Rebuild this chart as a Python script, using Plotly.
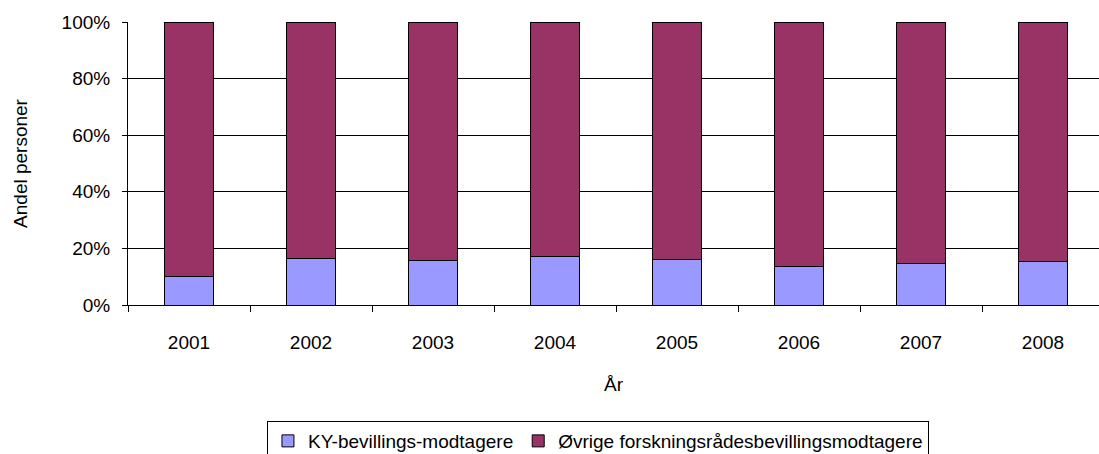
import plotly.graph_objects as go

years = ["2001", "2002", "2003", "2004", "2005", "2006", "2007", "2008"]
ky_share = [10.2, 16.6, 15.6, 17.2, 16.1, 13.6, 14.7, 15.2]
other_share = [89.8, 83.4, 84.4, 82.8, 83.9, 86.4, 85.3, 84.8]
series_names = ["KY-bevillings-modtagere", "Øvrige forskningsrådesbevillingsmodtagere"]
colors = ["#9999FF", "#993366"]
y_ticks = [0, 20, 40, 60, 80, 100]

font = dict(family="Liberation Sans, Arial, sans-serif", size=19, color="black")

fig = go.Figure()
for name, vals, col in zip(series_names, [ky_share, other_share], colors):
    fig.add_trace(go.Bar(
        x=years, y=vals, name=name, width=0.4,
        marker=dict(color=col, line=dict(color="black", width=1)),
    ))

fig.update_layout(
    barmode="stack",
    width=1099, height=454,
    margin=dict(l=128, r=0, t=22, b=149, autoexpand=False),
    plot_bgcolor="white", paper_bgcolor="white",
    font=font,
    showlegend=True,
    legend=dict(
        orientation="h", x=0.484, xanchor="center", y=-0.41, yanchor="top",
        bordercolor="black", borderwidth=1, font=font,
        traceorder="normal", itemwidth=30, tracegroupgap=0,
    ),
    xaxis=dict(
        type="category", range=[-0.5, 7.459], automargin=False,
        showline=True, linecolor="black", linewidth=1,
        ticks="outside", ticklen=6, tickcolor="black", tickson="boundaries",
        ticklabelstandoff=20,
        showgrid=False, title=dict(text="År", font=font, standoff=25),
    ),
    yaxis=dict(
        range=[0, 100], tickvals=y_ticks, ticktext=[f"{v}%" for v in y_ticks],
        automargin=False,
        showline=True, linecolor="black", linewidth=1,
        ticks="outside", ticklen=5, tickcolor="black", ticklabelstandoff=8,
        showgrid=True, gridcolor="black", gridwidth=1, zeroline=False,
        title=dict(text="Andel personer", font=font, standoff=28),
    ),
)

fig.write_html("out.html", config={"displayModeBar": False},
               post_script="document.body.style.margin='0';")
